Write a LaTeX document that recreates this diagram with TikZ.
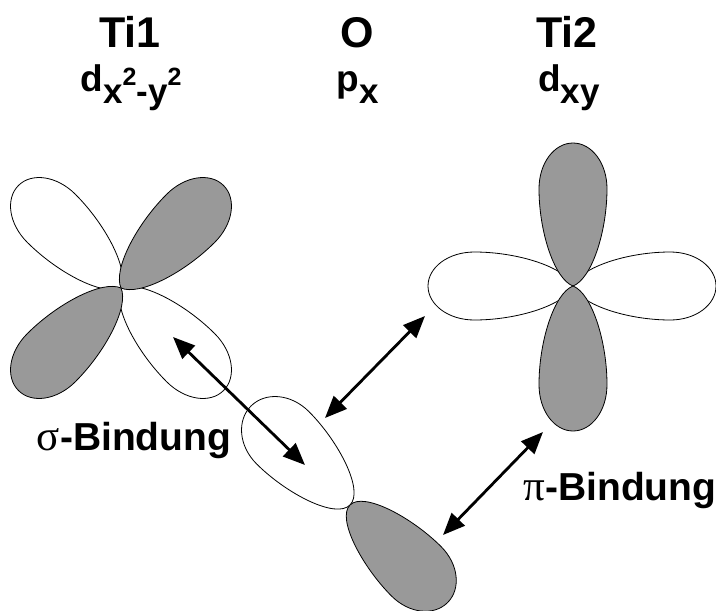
\documentclass[tikz,border=0pt]{standalone}
\usepackage{fontspec}
\setmainfont{Liberation Sans}
\newfontfamily\greekfont{Liberation Serif}
\usetikzlibrary{arrows.meta}

\definecolor{lobegray}{RGB}{153,153,153}

% lowered / raised pieces of the orbital labels
\newcommand{\subtxt}[1]{\raisebox{-12pt}{\fontsize{35}{35}\selectfont #1}}
\newcommand{\suptxt}[1]{\raisebox{18pt}{\fontsize{25}{25}\selectfont #1}}

% one orbital lobe: centre, direction, length, half width, fill, bluntness of the inner end
\newcommand{\lobe}[6]{%
  \filldraw[orbital, fill=#5, shift={#1}, rotate=#2]
    (0,0) .. controls (#6*#3,0.55*#4) and (0.38*#3,#4) .. (0.68*#3,#4)
          .. controls (0.86*#3,#4) and (#3,0.55*#4) .. (#3,0)
          .. controls (#3,-0.55*#4) and (0.86*#3,-#4) .. (0.68*#3,-#4)
          .. controls (0.38*#3,-#4) and (#6*#3,-0.55*#4) .. (0,0) -- cycle;}

\begin{document}
\begin{tikzpicture}[x=1pt, y=-1pt,
    orbital/.style ={draw=black, line width=0.8pt},
    atom/.style ={inner sep=0pt, anchor=base, font=\fontsize{43}{43}\selectfont\bfseries},
    orb/.style ={inner sep=0pt, anchor=base, font=\fontsize{37}{37}\selectfont\bfseries},
    bondname/.style ={inner sep=0pt, anchor=base, font=\fontsize{39}{39}\selectfont\bfseries},
    bond/.style ={{Triangle[length=22pt,width=18pt]}-{Triangle[length=22pt,width=18pt]}, line width=2.8pt}]
   \useasboundingbox (0,0) rectangle (716,611);

   % headings
   \node[atom] (ti1) at (130,47) {Ti1};
   \node[atom] (o)   at (357,47) {O};
   \node[atom] (ti2) at (567,47) {Ti2};
   \node[orb] (ti1orb) at (131,91) {d\subtxt{x\suptxt{2}-y\suptxt{2}}};
   \node[orb] (oorb)   at (358,91) {p\subtxt{x}};
   \node[orb] (ti2orb) at (569,91) {d\subtxt{xy}};

   % orbital centres
   \coordinate (ti1c) at (121,288);
   \coordinate (ti2c) at (573,286);
   \coordinate (oc)   at (350,505);

   % Ti1 d(x2-y2)
   \lobe{(ti1c)}{135}{145}{34}{white}{0.05}
   \lobe{(ti1c)}{-45}{145}{34}{white}{0.05}
   \lobe{(ti1c)}{45}{145}{34}{lobegray}{0.05}
   \lobe{(ti1c)}{225}{145}{34}{lobegray}{0.05}

   % Ti2 d(xy)
   \lobe{(ti2c)}{180}{145}{34}{white}{0.05}
   \lobe{(ti2c)}{0}{143}{34}{white}{0.05}
   \lobe{(ti2c)}{90}{143}{34}{lobegray}{0.05}
   \lobe{(ti2c)}{270}{145}{34}{lobegray}{0.05}

   % O p(x)
   \lobe{(oc)}{135}{140}{37}{white}{0}
   \lobe{(oc)}{-45}{138}{35}{lobegray}{0}

   % arrow ends
   \coordinate (s1) at (173,337);
   \coordinate (s2) at (305,465);
   \coordinate (m1) at (325,418);
   \coordinate (m2) at (425,316);
   \coordinate (p1) at (443,535);
   \coordinate (p2) at (543,432);

   \draw[bond] (s1) to (s2);
   \draw[bond] (m1) to (m2);
   \draw[bond] (p1) to (p2);

   \node[bondname] (sigma) at (134,450) {{\greekfont\mdseries\fontsize{43}{43}\selectfont σ}-Bindung};
   \node[bondname] (pi)    at (620,500) {{\greekfont\mdseries\fontsize{43}{43}\selectfont π}-Bindung};
\end{tikzpicture}
\end{document}
